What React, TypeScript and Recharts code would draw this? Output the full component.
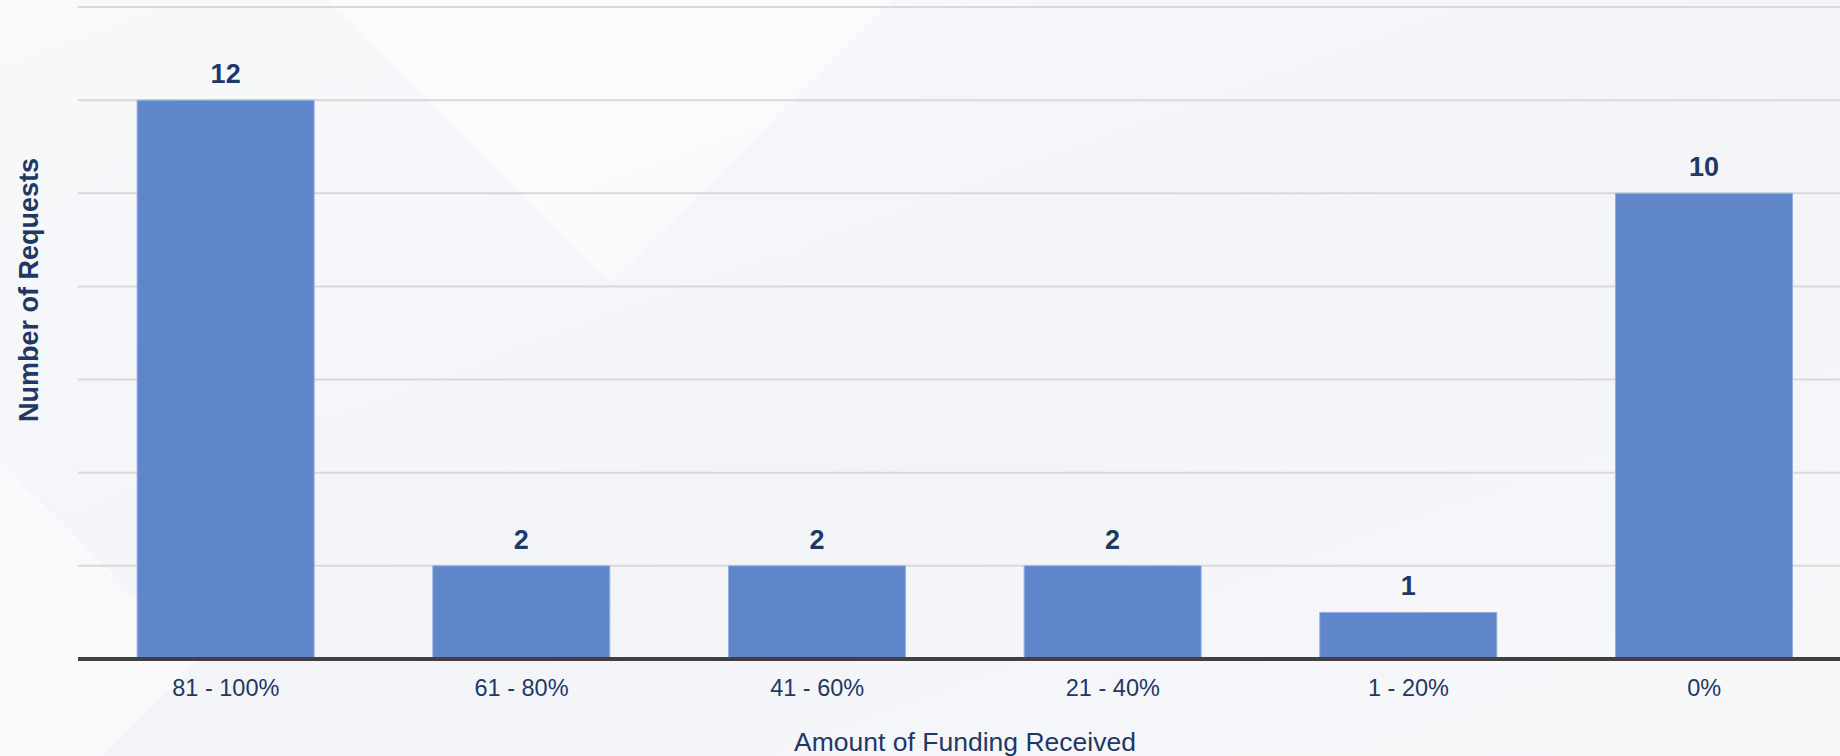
import React from "react";
import { BarChart, Bar, XAxis, YAxis, CartesianGrid, LabelList } from "recharts";

const categories = ["81 - 100%", "61 - 80%", "41 - 60%", "21 - 40%", "1 - 20%", "0%"];
const requests = [12, 2, 2, 2, 1, 10];
const yTicks = [0, 2, 4, 6, 8, 10, 12, 14];

const NAVY = "#1f3864";
const FONT = "'Liberation Sans', Arial, sans-serif";

const data = categories.map((name, i) => ({ name, requests: requests[i] }));

function YTitle(props: any) {
  const vb = props.viewBox || {};
  const x = vb.x + 29;
  const y = vb.y + vb.height / 2 - 43;
  return (
    <text
      x={x}
      y={y}
      transform={`rotate(-90, ${x}, ${y})`}
      textAnchor="middle"
      dominantBaseline="central"
      fill={NAVY}
      fontSize={27}
      fontWeight={700}
      fontFamily={FONT}
    >
      Number of Requests
    </text>
  );
}

export default function App() {
  return (
    <div
      style={{
        position: "absolute",
        left: 0,
        top: 0,
        width: 1840,
        height: 756,
        overflow: "hidden",
        background: "linear-gradient(160deg, #f8f9fb 0%, #f3f4f7 55%, #f7f8fa 100%)",
        fontFamily: FONT,
      }}
    >
      <div
        style={{
          position: "absolute",
          left: 410,
          top: -200,
          width: 400,
          height: 400,
          transform: "rotate(45deg)",
          background: "rgba(255,255,255,0.45)",
        }}
      />
      <div
        style={{
          position: "absolute",
          left: -260,
          top: 470,
          width: 380,
          height: 380,
          transform: "rotate(45deg)",
          background: "rgba(255,255,255,0.45)",
        }}
      />
      <div style={{ position: "absolute", left: 0, top: 1 }}>
        <BarChart
          width={1852}
          height={756}
          data={data}
          margin={{ top: 6, right: 0, left: 0, bottom: 0 }}
          barCategoryGap="20%"
        >
          <CartesianGrid vertical={false} stroke="#d9d9d9" strokeWidth={2} />
          <XAxis
            dataKey="name"
            height={98}
            tickLine={false}
            tickSize={0}
            tickMargin={20}
            axisLine={{ stroke: "#404040", strokeWidth: 4 }}
            tick={{ fill: NAVY, fontSize: 23.5, fontFamily: FONT }}
            label={{
              value: "Amount of Funding Received",
              position: "insideBottom",
              offset: 6,
              fill: NAVY,
              fontSize: 26.5,
              fontFamily: FONT,
            }}
          />
          <YAxis
            width={78}
            domain={[0, 14]}
            ticks={yTicks}
            tickFormatter={() => ""}
            tickLine={false}
            axisLine={false}
            label={<YTitle />}
          />
          <Bar
            dataKey="requests"
            fill="#5f86cb"
            stroke="#94aee0"
            strokeWidth={1}
            isAnimationActive={false}
          >
            <LabelList
              dataKey="requests"
              position="top"
              offset={17}
              fill={NAVY}
              fontSize={27}
              fontWeight={700}
              fontFamily={FONT}
            />
          </Bar>
        </BarChart>
      </div>
    </div>
  );
}
